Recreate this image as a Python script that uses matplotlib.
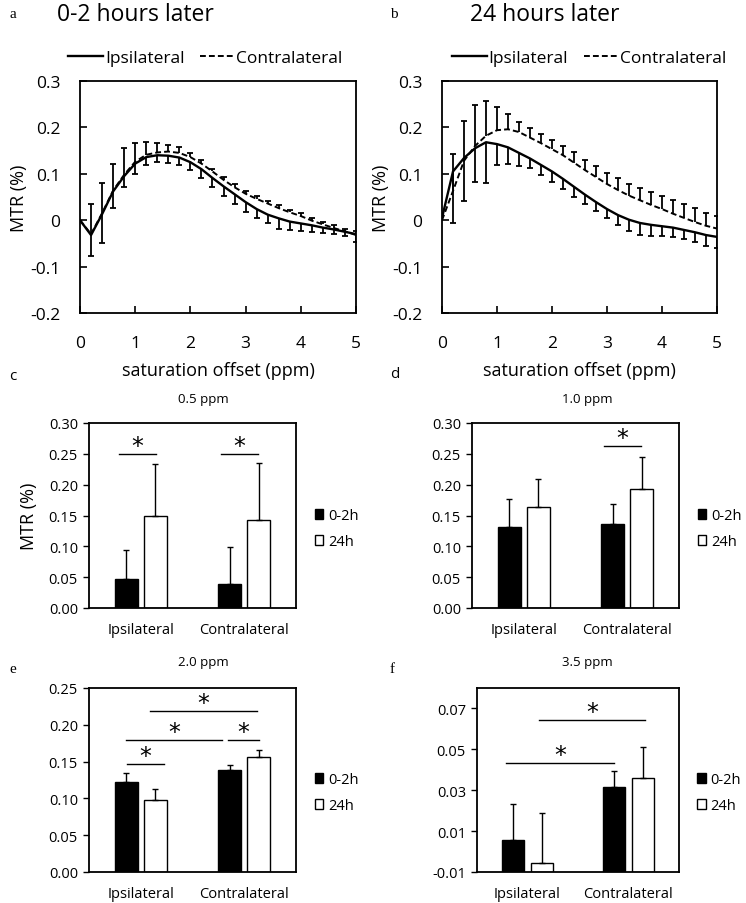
import matplotlib
matplotlib.use("Agg")
import matplotlib.pyplot as plt
import numpy as np
from matplotlib.patches import Patch
from matplotlib.lines import Line2D

plt.rcParams['font.family'] = ['Open Sans', 'DejaVu Sans']
plt.rcParams['axes.unicode_minus'] = False

# dane - krzywe MTR (0-5 ppm co 0.2)
przesuniecie = np.array([0.0, 0.2, 0.4, 0.6, 0.8, 1.0, 1.2, 1.4, 1.6, 1.8, 2.0, 2.2, 2.4,
                         2.6, 2.8, 3.0, 3.2, 3.4, 3.6, 3.8, 4.0, 4.2, 4.4, 4.6, 4.8, 5.0])

ipsiA = np.array([0.0, -0.032, 0.013, 0.062, 0.095, 0.122, 0.136, 0.140, 0.139, 0.135, 0.125, 0.110, 0.091,
                  0.073, 0.056, 0.039, 0.024, 0.012, 0.004, -0.003, -0.007, -0.011, -0.016, -0.020, -0.025, -0.030])
ipsiAErr = np.array([0.0, 0.045, 0.063, 0.036, 0.024, 0.022, 0.018, 0.014, 0.016, 0.016, 0.016, 0.018, 0.020,
                     0.020, 0.022, 0.022, 0.020, 0.019, 0.022, 0.019, 0.017, 0.015, 0.012, 0.009, 0.010, 0.017])
contraA = np.array([0.0, -0.030, 0.015, 0.064, 0.098, 0.126, 0.141, 0.146, 0.148, 0.145, 0.136, 0.122, 0.105,
                    0.087, 0.071, 0.057, 0.046, 0.036, 0.026, 0.017, 0.009, -0.001, -0.009, -0.017, -0.024, -0.032])
contraAErr = np.array([0.0, 0.065, 0.065, 0.057, 0.057, 0.040, 0.027, 0.020, 0.015, 0.013, 0.009, 0.008, 0.006,
                       0.006, 0.006, 0.006, 0.006, 0.006, 0.006, 0.006, 0.006, 0.006, 0.006, 0.006, 0.006, 0.008])

ipsiB = np.array([0.005, 0.105, 0.134, 0.155, 0.168, 0.164, 0.157, 0.145, 0.133, 0.119, 0.105, 0.089, 0.072,
                  0.055, 0.039, 0.024, 0.011, 0.001, -0.006, -0.010, -0.013, -0.016, -0.021, -0.026, -0.032, -0.036])
ipsiBErr = np.array([0.0, 0.110, 0.092, 0.073, 0.088, 0.044, 0.036, 0.028, 0.020, 0.022, 0.022, 0.022, 0.021,
                     0.020, 0.020, 0.020, 0.022, 0.025, 0.026, 0.024, 0.022, 0.021, 0.020, 0.021, 0.023, 0.024])
contraB = np.array([0.0, 0.063, 0.128, 0.160, 0.182, 0.194, 0.196, 0.190, 0.178, 0.166, 0.153, 0.140, 0.124,
                    0.108, 0.093, 0.078, 0.065, 0.053, 0.043, 0.033, 0.024, 0.014, 0.005, -0.004, -0.012, -0.018])
contraBErr = np.array([0.0, 0.080, 0.085, 0.089, 0.074, 0.051, 0.032, 0.022, 0.020, 0.020, 0.020, 0.020, 0.022,
                       0.022, 0.023, 0.024, 0.025, 0.026, 0.027, 0.028, 0.029, 0.030, 0.030, 0.030, 0.028, 0.027])

# dane - slupki (Ipsilateral, Contralateral)
grupy = ["Ipsilateral", "Contralateral"]
serie = ["0-2h", "24h"]

c02 = np.array([0.047, 0.039]); c02Err = np.array([0.047, 0.060])
c24 = np.array([0.149, 0.143]); c24Err = np.array([0.084, 0.092])
d02 = np.array([0.131, 0.136]); d02Err = np.array([0.046, 0.032])
d24 = np.array([0.164, 0.193]); d24Err = np.array([0.045, 0.052])
e02 = np.array([0.122, 0.139]); e02Err = np.array([0.013, 0.006])
e24 = np.array([0.098, 0.156]); e24Err = np.array([0.015, 0.010])
f02 = np.array([0.0055, 0.0315]); f02Err = np.array([0.018, 0.008])
f24 = np.array([-0.0058, 0.0358]); f24Err = np.array([0.0245, 0.0155])

# linie istotnosci: (od x, do x, wysokosc)
gwiazdkiC = [(-0.21, 0.15, 0.25), (0.775, 1.13, 0.25)]
gwiazdkiD = [(0.775, 1.136, 0.2625)]
gwiazdkiE = [(-0.136, 0.228, 0.1465), (-0.143, 0.782, 0.179), (0.84, 1.14, 0.179), (0.092, 1.123, 0.2188)]
gwiazdkiF = [(-0.208, 0.855, 0.0433), (0.11, 1.168, 0.0643)]

W, H = 746, 904
fig = plt.figure(figsize=(W / 100, H / 100), dpi=100)


def osie(lewo, gora, prawo, dol):
    return fig.add_axes([lewo / W, 1 - dol / H, (prawo - lewo) / W, (dol - gora) / H])


def rysujKrzywe(ax, ipsi, ipsiErr, contra, contraErr, legendaX):
    ax.plot(przesuniecie, ipsi, color="black", lw=1.7)
    ax.plot(przesuniecie, contra, color="black", lw=1.4, ls=(0, (3, 1.6)))
    # ipsilateral - slupki bledu w dol, contralateral - w gore
    ax.vlines(przesuniecie[1:], ipsi[1:] - ipsiErr[1:], ipsi[1:], color="black", lw=1.3)
    ax.plot(przesuniecie[1:], ipsi[1:] - ipsiErr[1:], ls="none", marker="_", ms=4, mew=1.3, color="black")
    ax.vlines(przesuniecie[1:], contra[1:], contra[1:] + contraErr[1:], color="black", lw=1.3)
    ax.plot(przesuniecie[1:], contra[1:] + contraErr[1:], ls="none", marker="_", ms=4, mew=1.3, color="black")
    ax.set_xlim(0, 5)
    ax.set_ylim(-0.2, 0.3)
    ax.set_xticks([0, 1, 2, 3, 4, 5])
    ax.set_yticks([-0.2, -0.1, 0, 0.1, 0.2, 0.3])
    ax.set_yticklabels(["-0.2", "-0.1", "0", "0.1", "0.2", "0.3"])
    ax.tick_params(direction="in", length=5, width=1.2, labelsize=12.5)
    ax.tick_params(axis="x", pad=16)
    ax.tick_params(axis="y", pad=14)
    for s in ax.spines.values():
        s.set_linewidth(1.3)
    ax.set_xlabel("saturation offset (ppm)", fontsize=13, labelpad=7)
    ax.set_ylabel("MTR (%)", fontsize=13, labelpad=2)
    uchwyty = [Line2D([], [], color="black", lw=1.7),
               Line2D([], [], color="black", lw=1.4, ls=(0, (3, 1.6)))]
    ax.legend(uchwyty, ["Ipsilateral", "Contralateral"], ncol=2, loc="lower center",
              bbox_to_anchor=(legendaX, 1.0), frameon=False, fontsize=12.5, handlelength=2.0,
              handletextpad=0.1, columnspacing=0.9, borderaxespad=0.45)


def rysujSlupki(ax, w02, e02_, w24, e24_, gwiazdki, yMin, yMax, yTicks, ylabel=None):
    poz = np.arange(len(grupy))
    ax.bar(poz - 0.14, w02 - yMin, width=0.22, bottom=yMin, color="black", edgecolor="black", lw=1.0, zorder=2)
    ax.bar(poz + 0.14, w24 - yMin, width=0.22, bottom=yMin, color="white", edgecolor="black", lw=1.0, zorder=2)
    ax.errorbar(poz - 0.14, w02, yerr=[np.zeros(2), e02_], fmt="none", ecolor="black",
                elinewidth=1.0, capsize=2.2, capthick=1.0, zorder=3)
    ax.errorbar(poz + 0.14, w24, yerr=[np.zeros(2), e24_], fmt="none", ecolor="black",
                elinewidth=1.0, capsize=2.2, capthick=1.0, zorder=3)
    for x0, x1, y in gwiazdki:
        ax.plot([x0, x1], [y, y], color="black", lw=1.0)
        ax.annotate("*", xy=((x0 + x1) / 2, y), xytext=(0, -3), textcoords="offset points",
                    ha="center", va="bottom", fontsize=17, family="DejaVu Sans")
    ax.set_xlim(-0.5, 1.5)
    ax.set_ylim(yMin, yMax)
    ax.set_xticks(poz)
    ax.set_xticklabels(grupy)
    ax.set_yticks(yTicks)
    ax.set_yticklabels(["%.2f" % t for t in yTicks])
    ax.tick_params(axis="x", length=0, pad=10, labelsize=10.5)
    ax.tick_params(axis="y", length=4, width=1.0, pad=4, labelsize=10.5)
    for s in ax.spines.values():
        s.set_linewidth(1.3)
    if ylabel:
        ax.set_ylabel(ylabel, fontsize=13, labelpad=8)
    uchwyty = [Patch(facecolor="black", edgecolor="black"), Patch(facecolor="white", edgecolor="black")]
    ax.legend(uchwyty, serie, loc="center left", bbox_to_anchor=(1.09, 0.43), frameon=False,
              fontsize=10.5, handlelength=0.6, handleheight=0.7, handletextpad=0.3,
              labelspacing=0.75, borderpad=0, borderaxespad=0)


axA = osie(80, 82, 356, 314)
rysujKrzywe(axA, ipsiA, ipsiAErr, contraA, contraAErr, 0.455)
axB = osie(442, 82, 717, 314)
rysujKrzywe(axB, ipsiB, ipsiBErr, contraB, contraBErr, 0.535)

axC = osie(89, 424, 296, 609)
rysujSlupki(axC, c02, c02Err, c24, c24Err, gwiazdkiC, 0.0, 0.30,
            [0.0, 0.05, 0.10, 0.15, 0.20, 0.25, 0.30], ylabel="MTR (%)")
axD = osie(472, 424, 679, 609)
rysujSlupki(axD, d02, d02Err, d24, d24Err, gwiazdkiD, 0.0, 0.30,
            [0.0, 0.05, 0.10, 0.15, 0.20, 0.25, 0.30])
axE = osie(89, 689, 296, 873)
rysujSlupki(axE, e02, e02Err, e24, e24Err, gwiazdkiE, 0.0, 0.25,
            [0.0, 0.05, 0.10, 0.15, 0.20, 0.25])
axF = osie(477, 689, 679, 873)
rysujSlupki(axF, f02, f02Err, f24, f24Err, gwiazdkiF, -0.01, 0.08,
            [-0.01, 0.01, 0.03, 0.05, 0.07])

# podpisy paneli i tytuly
def tekst(x, y, s, **kw):
    fig.text(x / W, 1 - y / H, s, va="center", **kw)

tekst(9, 15, "a", fontsize=11, family="Liberation Serif")
tekst(57, 15, "0-2 hours later", fontsize=16.5)
tekst(390, 15, "b", fontsize=11, family="Liberation Serif")
tekst(470, 15, "24 hours later", fontsize=16.5)
tekst(9, 377, "c", fontsize=11)
tekst(390, 375, "d", fontsize=11)
tekst(9, 670, "e", fontsize=11, family="Liberation Serif")
tekst(390, 670, "f", fontsize=11, family="Liberation Serif")
tekst(203, 400, "0.5 ppm", fontsize=9.5, ha="center")
tekst(587, 400, "1.0 ppm", fontsize=9.5, ha="center")
tekst(203, 663, "2.0 ppm", fontsize=9.5, ha="center")
tekst(587, 663, "3.5 ppm", fontsize=9.5, ha="center")

fig.savefig("out.png", dpi=100, facecolor="white")
